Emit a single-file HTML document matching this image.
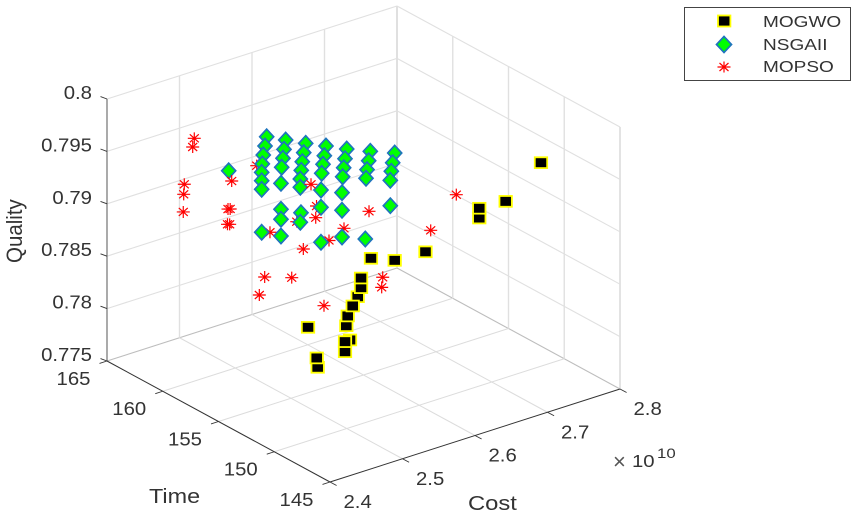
<!DOCTYPE html>
<html>
<head>
<meta charset="utf-8">
<title>3D Pareto scatter</title>
<style>
html,body{margin:0;padding:0;background:#fff;}
svg{display:block;font-family:"Liberation Sans",Arial,sans-serif;filter:blur(0.35px);}
</style>
</head>
<body>
<svg id="chart" xmlns="http://www.w3.org/2000/svg" width="857" height="517" viewBox="0 0 857 517">
<g id="grid"></g>
<g id="axes"></g>
<g id="stars-back"></g>
<g id="diamonds"></g>
<g id="stars-front"></g>
<g id="squares"></g>
<g id="labels">
<text transform="translate(22,263) rotate(-90) scale(1,1.08)" font-size="20.5" fill="#333">Quality</text>
<text transform="translate(149,503) scale(1.17,1)" font-size="20" fill="#333">Time</text>
<text transform="translate(468,510) scale(1.19,1)" font-size="20" fill="#333">Cost</text>
<g>
<text transform="translate(613,469) scale(1,1)" font-size="22" fill="#555">×</text>
<text transform="translate(632,467) scale(1.13,1)" font-size="18" fill="#333">10</text>
<text transform="translate(657,458) scale(1.2,1)" font-size="14" fill="#333">10</text>
</g>
</g>
<g id="legend">
<rect x="684.5" y="7.5" width="166" height="73" fill="#fff" stroke="#444" stroke-width="1"></rect>
<g>
<rect x="718" y="15.5" width="12.4" height="11" fill="#000" stroke="#ffff00" stroke-width="1.8"></rect>
<text transform="translate(763,27) scale(1.19,1)" font-size="16" fill="#333">MOGWO</text>
</g>
<g>
<polygon points="724,36.5 731.5,44.5 724,52.5 716.5,44.5" fill="#00ff00" stroke="#1f74bd" stroke-width="1.7"></polygon>
<text transform="translate(763,50) scale(1.19,1)" font-size="16" fill="#333">NSGAII</text>
</g>
<g>
<path d="M717.5,67H730.5M724,61.5V72.5M719.5,63L728.5,71M728.5,63L719.5,71" stroke="#ff0000" stroke-width="1.2" fill="none"></path>
<text transform="translate(763,72) scale(1.19,1)" font-size="16" fill="#333">MOPSO</text>
</g>
</g>
</svg>
<script>
var costTicks = [2.4, 2.5, 2.6, 2.7, 2.8];
var timeTicks = [145, 150, 155, 160, 165];
var qualityTicks = [0.775, 0.78, 0.785, 0.79, 0.795, 0.8];
var qualityTickLabels = ["0.775", "0.78", "0.785", "0.79", "0.795", "0.8"];

var mogwoCost = [2.4599, 2.4586, 2.4466, 2.4976, 2.5045, 2.4976, 2.4994, 2.5013, 2.5151, 2.5082, 2.5197, 2.5197, 2.5334, 2.5661, 2.6086, 2.6828, 2.6828, 2.7192, 2.7679];
var mogwoTime = [150, 150, 150, 150, 150, 150, 150, 150, 150, 150, 150, 150, 150, 150, 150, 150, 150, 150, 150];
var mogwoQuality = [0.78173, 0.78265, 0.78584, 0.78238, 0.78335, 0.78334, 0.78482, 0.78571, 0.78724, 0.78651, 0.788, 0.78892, 0.7905, 0.78958, 0.78945, 0.79103, 0.79196, 0.79181, 0.79442];

var nsgaCost = [2.4602,
 2.5126, 2.5103, 2.5079, 2.5066, 2.5057, 2.5057, 2.5057, 2.5057,
 2.5388, 2.5365, 2.5351, 2.5333, 2.5323, 2.5323, 2.5323, 2.5323,
 2.5664, 2.5637, 2.5617, 2.5603, 2.559, 2.559, 2.5599, 2.559,
 2.5944, 2.5921, 2.5903, 2.5885, 2.5875, 2.5875, 2.5875,
 2.623, 2.6206, 2.6188, 2.6174, 2.6165, 2.6165, 2.6165,
 2.6555, 2.6533, 2.651, 2.6496, 2.6486,
 2.6892, 2.6864, 2.6845, 2.6831, 2.6831];
var nsgaTime = [158,
 158, 158, 158, 158, 158, 158, 158, 158,
 158, 158, 158, 158, 158, 158, 158, 158,
 158, 158, 158, 158, 158, 158, 158, 158,
 158, 158, 158, 158, 158, 158, 158,
 158, 158, 158, 158, 158, 158, 158,
 158, 158, 158, 158, 158,
 158, 158, 158, 158, 158];
var nsgaQuality = [0.79586,
 0.79794, 0.79711, 0.7963, 0.79548, 0.7947, 0.7939, 0.79308, 0.78898,
 0.79705, 0.79621, 0.79539, 0.79457, 0.79306, 0.79058, 0.78963, 0.78803,
 0.79612, 0.79529, 0.79447, 0.79368, 0.79288, 0.79209, 0.78964, 0.78875,
 0.79524, 0.79437, 0.79359, 0.79277, 0.7912, 0.78955, 0.78621,
 0.79432, 0.79345, 0.79263, 0.7918, 0.7903, 0.78862, 0.78607,
 0.79338, 0.79253, 0.79173, 0.79094, 0.78517,
 0.79247, 0.79161, 0.79083, 0.79, 0.78758];

var mopsoCost = [2.4435, 2.4413, 2.4297, 2.4289, 2.4283, 2.4951, 2.49, 2.493, 2.4893, 2.4923, 2.5296, 2.6045, 2.611, 2.5848, 2.5479, 2.65, 2.6293, 2.5939, 2.6845, 2.6121, 2.5406, 2.5779, 2.5332, 2.6224, 2.5496, 2.5482, 2.6511, 2.6158];
var mopsoTime = [160, 160, 160, 160, 160, 160, 160, 160, 160, 160, 160, 160, 160, 160, 160, 160, 160, 160, 160, 160, 160, 160, 160, 160, 150, 150, 150, 150];
var mopsoQuality = [0.79817, 0.79739, 0.79409, 0.79315, 0.79148, 0.79295, 0.79039, 0.79033, 0.78895, 0.78888, 0.79365, 0.79021, 0.78688, 0.78708, 0.78689, 0.785, 0.7843, 0.78427, 0.78586, 0.78797, 0.78278, 0.78189, 0.78123, 0.77823, 0.78833, 0.7874, 0.79396, 0.79134];
var mopsoInFront = [1, 1, 1, 1, 1, 1, 1, 1, 1, 1, 0, 1, 1, 0, 0, 0, 0, 1, 1, 0, 1, 1, 1, 1, 1, 1, 1, 1];

var SVG_NS = "http://www.w3.org/2000/svg";
var cMin = 2.4, cMax = 2.8, tMin = 145, tMax = 165, qMin = 0.775, qMax = 0.8;

function projX(c, t) { return 330 + (c - cMin) * 725 - (t - tMin) * 11.15; }
function projY(c, t, q) { return 482 - (c - cMin) * 232.5 - (t - tMin) * 6.05 - (q - qMin) * 10480; }

function make(tag, parentId) {
  var el = document.createElementNS(SVG_NS, tag);
  document.getElementById(parentId).appendChild(el);
  return el;
}
function line3d(parentId, a, b, color, width) {
  var el = make("line", parentId);
  el.setAttribute("x1", projX(a[0], a[1]));
  el.setAttribute("y1", projY(a[0], a[1], a[2]));
  el.setAttribute("x2", projX(b[0], b[1]));
  el.setAttribute("y2", projY(b[0], b[1], b[2]));
  el.setAttribute("stroke", color);
  el.setAttribute("stroke-width", width);
  return el;
}
function tickSeg(x, y, dx, dy) {
  var el = make("line", "axes");
  el.setAttribute("x1", x);
  el.setAttribute("y1", y);
  el.setAttribute("x2", x + dx);
  el.setAttribute("y2", y + dy);
  el.setAttribute("stroke", "#333");
  el.setAttribute("stroke-width", 0.9);
  return el;
}
function tickText(x, y, str, anchor) {
  var el = make("text", "labels");
  el.setAttribute("transform", "translate(" + x + "," + y + ") scale(1.1,1)");
  el.setAttribute("font-size", "18.5");
  el.setAttribute("fill", "#333");
  el.setAttribute("text-anchor", anchor);
  el.textContent = str;
  return el;
}

var gridColor = "#e0e0e0";
var floorEdge = "#bdbdbd";
var i, el;

for (i = 0; i < qualityTicks.length; i++) {
  var qv = qualityTicks[i];
  var wallColor = i === 0 ? floorEdge : gridColor;
  el = line3d("grid", [cMin, tMax, qv], [cMax, tMax, qv], wallColor, 1.1);
  
  
  el = line3d("grid", [cMax, tMax, qv], [cMax, tMin, qv], wallColor, 1.1);
  
  
}
for (i = 1; i < costTicks.length; i++) {
  el = line3d("grid", [costTicks[i], tMax, qMin], [costTicks[i], tMax, qMax], gridColor, i === costTicks.length - 1 ? 2 : 1.4);
  
  
  if (i < costTicks.length - 1) {
    el = line3d("grid", [costTicks[i], tMin, qMin], [costTicks[i], tMax, qMin], "#dcdcdc", 1);
    
    
  }
}
for (i = 0; i < timeTicks.length - 1; i++) {
  el = line3d("grid", [cMax, timeTicks[i], qMin], [cMax, timeTicks[i], qMax], gridColor, i === 0 ? 1.8 : 1.4);
  
  
  if (i > 0) {
    el = line3d("grid", [cMin, timeTicks[i], qMin], [cMax, timeTicks[i], qMin], "#dcdcdc", 1);
    
    
  }
}

el = line3d("axes", [cMin, tMax, qMin], [cMin, tMax, qMax], "#666", 1.1);


el = line3d("axes", [cMin, tMin, qMin], [cMin, tMax, qMin], "#333", 1);


el = line3d("axes", [cMin, tMin, qMin], [cMax, tMin, qMin], "#333", 1);



for (i = 0; i < costTicks.length; i++) {
  var cx = projX(costTicks[i], tMin), cy = projY(costTicks[i], tMin, qMin);
  el = tickSeg(cx, cy, 6.6, 3.5);
  
  
  el = tickText(cx + 13.5, cy + 26, costTicks[i].toFixed(1), "start");
  
  
}
for (i = 0; i < timeTicks.length; i++) {
  var tx = projX(cMin, timeTicks[i]), ty = projY(cMin, timeTicks[i], qMin);
  el = tickSeg(tx, ty, -7.5, 2.4);
  
  
  el = tickText(tx - 16.5, ty + 23.8, String(timeTicks[i]), "end");
  
  
}
for (i = 0; i < qualityTicks.length; i++) {
  var zx = projX(cMin, tMax), zy = projY(cMin, tMax, qualityTicks[i]);
  el = tickSeg(zx, zy, -6.5, -2.4);
  
  
  el = tickText(92, zy, qualityTickLabels[i], "end");
  
  
}

for (i = 0; i < mopsoCost.length; i++) {
  var sx = projX(mopsoCost[i], mopsoTime[i]), sy = projY(mopsoCost[i], mopsoTime[i], mopsoQuality[i]);
  el = make("path", mopsoInFront[i] ? "stars-front" : "stars-back");
  el.setAttribute("d", "M" + (sx - 6.5) + "," + sy + "H" + (sx + 6.5) + "M" + sx + "," + (sy - 6) + "V" + (sy + 6) +
    "M" + (sx - 4.5) + "," + (sy - 4) + "L" + (sx + 4.5) + "," + (sy + 4) +
    "M" + (sx + 4.5) + "," + (sy - 4) + "L" + (sx - 4.5) + "," + (sy + 4));
  el.setAttribute("stroke", "#ff0000");
  el.setAttribute("stroke-width", "1.2");
  el.setAttribute("fill", "none");
  
  
}

for (i = 0; i < nsgaCost.length; i++) {
  var dx = projX(nsgaCost[i], nsgaTime[i]), dy = projY(nsgaCost[i], nsgaTime[i], nsgaQuality[i]);
  el = make("polygon", "diamonds");
  el.setAttribute("points", dx + "," + (dy - 7.6) + " " + (dx + 7) + "," + dy + " " + dx + "," + (dy + 7.6) + " " + (dx - 7) + "," + dy);
  el.setAttribute("fill", "#00ff00");
  el.setAttribute("stroke", "#1f74bd");
  el.setAttribute("stroke-width", "1.7");
  
  
}

for (i = 0; i < mogwoCost.length; i++) {
  var bx = projX(mogwoCost[i], mogwoTime[i]), by = projY(mogwoCost[i], mogwoTime[i], mogwoQuality[i]);
  el = make("rect", "squares");
  el.setAttribute("x", bx - 6.2);
  el.setAttribute("y", by - 5.4);
  el.setAttribute("width", 12.4);
  el.setAttribute("height", 10.8);
  el.setAttribute("fill", "#000");
  el.setAttribute("stroke", "#ffff00");
  el.setAttribute("stroke-width", "1.8");
  
  
}
</script>
</body>
</html>
